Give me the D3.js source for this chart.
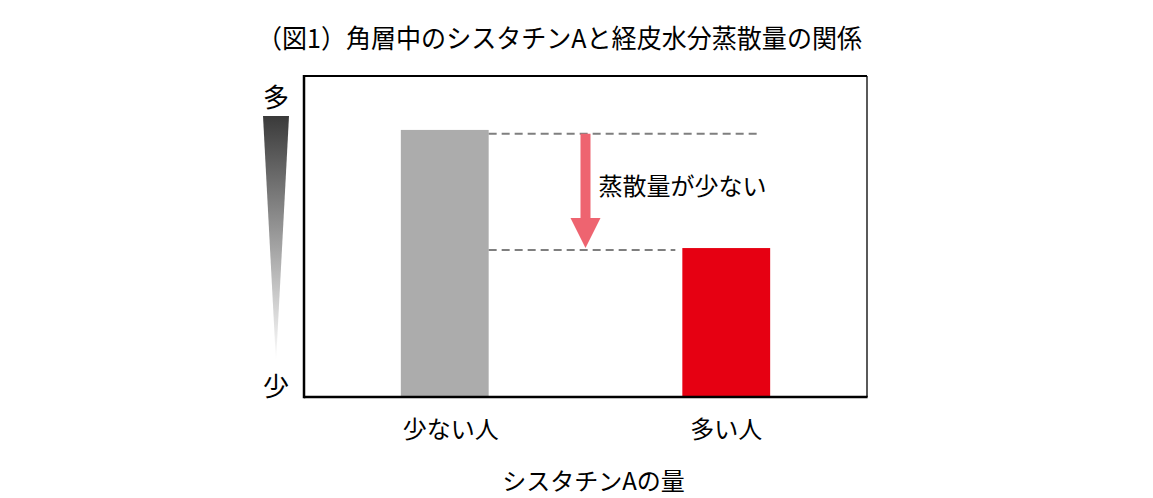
<!DOCTYPE html>
<html><head><meta charset="utf-8">
<script src="https://cdn.jsdelivr.net/npm/d3@7"></script>
<style>
html,body{margin:0;padding:0;background:#fff;}
text{font-family:"Noto Sans CJK JP","Noto Sans",sans-serif;fill:#000;}
</style></head>
<body><svg id="c" width="1153" height="498"></svg>
<script>
const title = "（図1）角層中のシスタチンAと経皮水分蒸散量の関係";
const categories = ["少ない人", "多い人"];
const values = [83.2, 46.4];
const barColors = ["#acacac", "#e60012"];
const levels = [82, 45.8];
const arrowLabel = "蒸散量が少ない";
const xTitle = "シスタチンAの量";
const scaleTop = "多", scaleBottom = "少";

const svg = d3.select("#c");
const L = 304, R = 867, T = 76, B = 397;
const x = d3.scaleBand().domain(categories).range([L, R]).paddingInner(0.688).paddingOuter(0.344);
const y = d3.scaleLinear().domain([0, 100]).range([B, T]);

// title
svg.append("text").attr("x", 257).attr("y", 48).attr("font-size", 26)
  .attr("textLength", 605).attr("lengthAdjust", "spacingAndGlyphs").text(title);

// bars
svg.selectAll("rect.bar").data(values).enter().append("rect")
  .attr("x", (d, i) => x(categories[i])).attr("width", x.bandwidth())
  .attr("y", d => y(d)).attr("height", d => y(0) - y(d))
  .attr("fill", (d, i) => barColors[i]);

// dashed reference lines
const x0r = x(categories[0]) + x.bandwidth();
const x1l = x(categories[1]);
const x1r = x(categories[1]) + x.bandwidth();
svg.append("line").attr("x1", x0r).attr("x2", x1r - 10).attr("y1", y(levels[0])).attr("y2", y(levels[0]))
  .attr("stroke", "#7f7f7f").attr("stroke-width", 2).attr("stroke-dasharray", "8,5");
svg.append("line").attr("x1", x0r).attr("x2", x1l - 7).attr("y1", y(levels[1])).attr("y2", y(levels[1]))
  .attr("stroke", "#7f7f7f").attr("stroke-width", 2).attr("stroke-dasharray", "8,5");

// arrow
const ax = (x(categories[0]) + x.bandwidth() / 2 + x(categories[1]) + x.bandwidth() / 2) / 2;
const ya = y(levels[0]), yb = y(levels[1]) - 2, headH = 30, headW = 30, shaftW = 10;
svg.append("path").attr("fill", "#ee6470").attr("d",
  `M${ax - shaftW/2},${ya} L${ax + shaftW/2},${ya} L${ax + shaftW/2},${yb - headH} L${ax + headW/2},${yb - headH} L${ax},${yb} L${ax - headW/2},${yb - headH} L${ax - shaftW/2},${yb - headH} Z`);
svg.append("text").attr("x", ax + 13).attr("y", (ya + yb) / 2 - 6).attr("font-size", 24)
  .attr("dominant-baseline", "central").text(arrowLabel);

// frame
svg.append("line").attr("x1", L).attr("x2", R).attr("y1", T).attr("y2", T).attr("stroke", "#000").attr("stroke-width", 1.8);
svg.append("line").attr("x1", R).attr("x2", R).attr("y1", T).attr("y2", B).attr("stroke", "#000").attr("stroke-width", 1.3);
svg.append("line").attr("x1", L).attr("x2", L).attr("y1", T - 0.9).attr("y2", B + 1.2).attr("stroke", "#000").attr("stroke-width", 2.5);
svg.append("line").attr("x1", L).attr("x2", R + 0.6).attr("y1", B).attr("y2", B).attr("stroke", "#000").attr("stroke-width", 2.4);

// x axis labels
const ax2 = svg.append("g").attr("transform", `translate(0,${B})`)
  .call(d3.axisBottom(x).tickSize(0).tickPadding(24));
ax2.select(".domain").remove();
ax2.selectAll("text").attr("font-size", 24).attr("fill", "#000")
  .attr("font-family", '"Noto Sans CJK JP",sans-serif')
  .attr("dx", (d, i) => i === 0 ? 6 : 0);
svg.append("text").attr("x", (L + R) / 2 + 8).attr("y", 479).attr("font-size", 24)
  .attr("text-anchor", "middle").attr("dominant-baseline", "central").text(xTitle);

// gradient wedge (amount scale)
const defs = svg.append("defs");
const g = defs.append("linearGradient").attr("id", "gw").attr("x1", 0).attr("y1", 0).attr("x2", 0).attr("y2", 1);
g.append("stop").attr("offset", "0%").attr("stop-color", "#3a3a3a");
g.append("stop").attr("offset", "100%").attr("stop-color", "#ffffff");
svg.append("path").attr("fill", "url(#gw)").attr("d", "M263,116 L289,116 L276,362 Z");
svg.append("text").attr("x", 276).attr("y", 95).attr("font-size", 26).attr("text-anchor", "middle")
  .attr("dominant-baseline", "central").text(scaleTop);
svg.append("text").attr("x", 276).attr("y", 384).attr("font-size", 26).attr("text-anchor", "middle")
  .attr("dominant-baseline", "central").text(scaleBottom);
</script></body></html>
